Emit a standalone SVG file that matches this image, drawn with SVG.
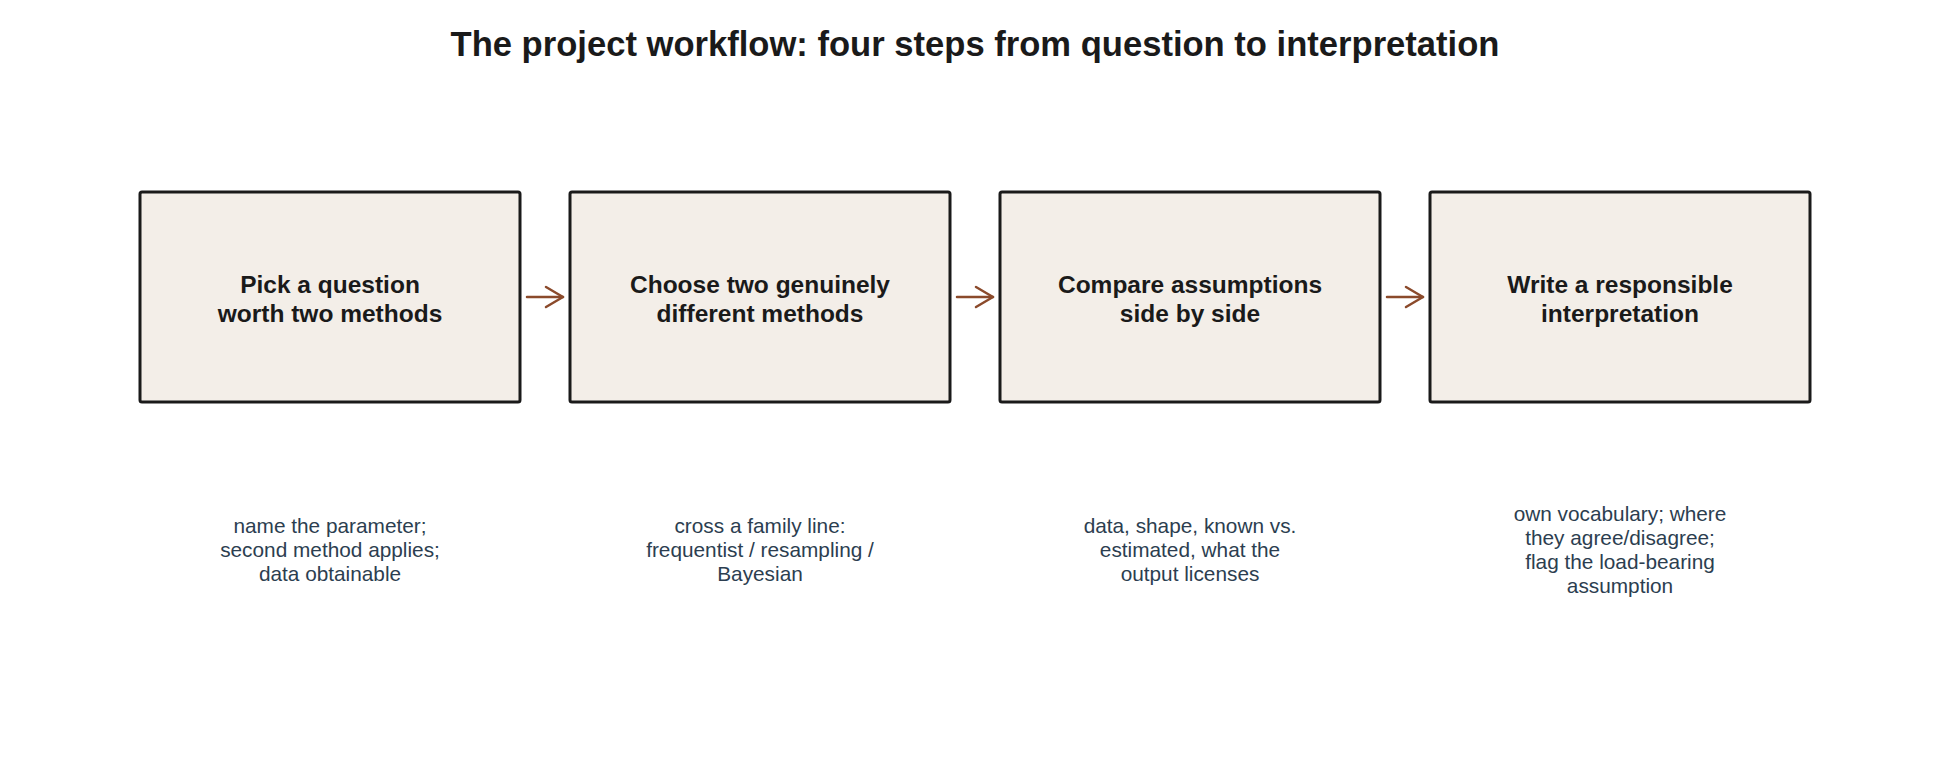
<svg xmlns="http://www.w3.org/2000/svg" width="1950" height="760" viewBox="0 0 1950 760">
<style>
.title{font-family:"Liberation Sans",Arial,sans-serif;font-weight:bold;font-size:34.6px;fill:#1a1a1a;text-anchor:middle}
.box{fill:#F3EEE8;stroke:#1a1a1a;stroke-width:3}
.lbl{font-family:"Liberation Sans",Arial,sans-serif;font-weight:bold;font-size:24.5px;fill:#1a1a1a;text-anchor:middle}
.sub{font-family:"Liberation Sans",Arial,sans-serif;font-size:20.8px;fill:#2c3e50;text-anchor:middle}
.arrow{fill:none;stroke:#8B4A2B;stroke-width:2.5;stroke-linecap:round;stroke-linejoin:round}
</style>
<rect width="1950" height="760" fill="#ffffff"/>
<text class="title" x="975" y="56">The project workflow: four steps from question to interpretation</text>
<g id="connectors">
<g class="arrow"><line x1="527" y1="297" x2="563" y2="297"/><polyline points="546,287 563,297 546,307"/></g>
<g class="arrow"><line x1="957" y1="297" x2="993" y2="297"/><polyline points="976,287 993,297 976,307"/></g>
<g class="arrow"><line x1="1387" y1="297" x2="1423" y2="297"/><polyline points="1406,287 1423,297 1406,307"/></g>
</g>
<g id="step1">
<rect class="box" x="140" y="192" width="380" height="210" rx="2"/>
<text class="lbl" x="330" y="293">Pick a question</text>
<text class="lbl" x="330" y="322">worth two methods</text>
<text class="sub" x="330" y="533">name the parameter;</text>
<text class="sub" x="330" y="557">second method applies;</text>
<text class="sub" x="330" y="581">data obtainable</text>
</g>
<g id="step2">
<rect class="box" x="570" y="192" width="380" height="210" rx="2"/>
<text class="lbl" x="760" y="293">Choose two genuinely</text>
<text class="lbl" x="760" y="322">different methods</text>
<text class="sub" x="760" y="533">cross a family line:</text>
<text class="sub" x="760" y="557">frequentist / resampling /</text>
<text class="sub" x="760" y="581">Bayesian</text>
</g>
<g id="step3">
<rect class="box" x="1000" y="192" width="380" height="210" rx="2"/>
<text class="lbl" x="1190" y="293">Compare assumptions</text>
<text class="lbl" x="1190" y="322">side by side</text>
<text class="sub" x="1190" y="533">data, shape, known vs.</text>
<text class="sub" x="1190" y="557">estimated, what the</text>
<text class="sub" x="1190" y="581">output licenses</text>
</g>
<g id="step4">
<rect class="box" x="1430" y="192" width="380" height="210" rx="2"/>
<text class="lbl" x="1620" y="293">Write a responsible</text>
<text class="lbl" x="1620" y="322">interpretation</text>
<text class="sub" x="1620" y="521">own vocabulary; where</text>
<text class="sub" x="1620" y="545">they agree/disagree;</text>
<text class="sub" x="1620" y="569">flag the load-bearing</text>
<text class="sub" x="1620" y="593">assumption</text>
</g>
</svg>
